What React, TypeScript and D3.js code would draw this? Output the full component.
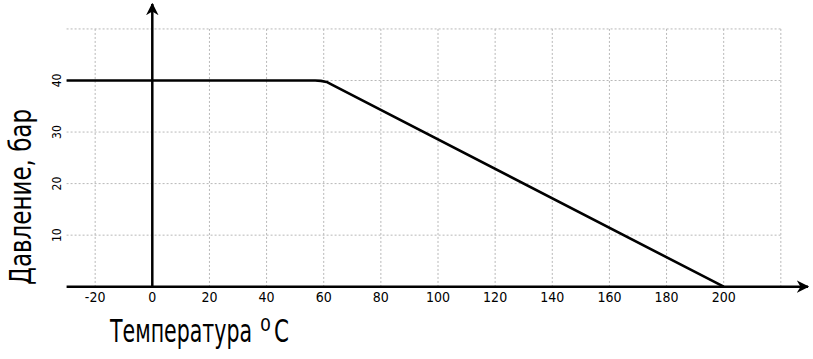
import React from "react";
import * as d3 from "d3";

const temps = [-30, 57, 59, 61, 63, 200];
const pressures = [40, 40, 39.93, 39.72, 39.14, 0];
const xTicks = [-20, 0, 20, 40, 60, 80, 100, 120, 140, 160, 180, 200];
const xGrid = [-20, 0, 20, 40, 60, 80, 100, 120, 140, 160, 180, 200, 220];
const yTicks = [10, 20, 30, 40];
const yGrid = [10, 20, 30, 40, 50];
const xTitle = "Температура";
const xTitleSup = "0";
const xTitleUnit = "C";
const yTitle = "Давление, бар";

const W = 813;
const H = 359;

export default function App() {
  const x = d3.scaleLinear().domain([0, 200]).range([152.3, 723.7]);
  const y = d3.scaleLinear().domain([0, 40]).range([286.7, 80.5]);
  const pts: [number, number][] = temps.map((t, i) => [x(t), y(pressures[i])]);
  const line = d3.line().curve(d3.curveLinear)(pts) || "";
  const xMin = x(-30);
  const xMax = x(220);
  const yTop = y(50);
  const tickFont = "'DejaVu Sans Condensed', 'DejaVu Sans', sans-serif";
  return (
    <svg
      width={W}
      height={H}
      style={{ position: "absolute", left: 0, top: 0, background: "#fff" }}
    >
      <defs>
        <marker id="arr" viewBox="0 0 10 10" refX="9" refY="5" markerWidth="5" markerHeight="5" orient="auto">
          <path d="M0,0 L10,5 L0,10 L3,5 z" fill="#000" />
        </marker>
      </defs>
      {xGrid.map((v) => (
        <line key={"xg" + v} x1={x(v)} x2={x(v)} y1={yTop} y2={y(0)} stroke="#b8b8b8" strokeWidth={1} strokeDasharray="2,2" />
      ))}
      {yGrid.map((v) => (
        <line key={"yg" + v} x1={xMin} x2={xMax} y1={y(v)} y2={y(v)} stroke="#b8b8b8" strokeWidth={1} strokeDasharray="2,2" />
      ))}
      <line x1={xMin} x2={808} y1={y(0)} y2={y(0)} stroke="#000" strokeWidth={2.5} markerEnd="url(#arr)" />
      <line x1={x(0)} x2={x(0)} y1={y(0)} y2={4} stroke="#000" strokeWidth={2.5} markerEnd="url(#arr)" />
      <path d={line} fill="none" stroke="#000" strokeWidth={2.6} strokeLinejoin="round" />
      {xTicks.map((v) => (
        <text key={"xt" + v} x={x(v)} y={302} textAnchor="middle" fontFamily={tickFont} fontSize={14} fill="#000">
          {v}
        </text>
      ))}
      {yTicks.map((v) => (
        <text key={"yt" + v} transform={`translate(61,${y(v)}) rotate(-90)`} textAnchor="middle" fontFamily={tickFont} fontSize={12} fill="#000">
          {v}
        </text>
      ))}
      <text x={110} y={341.5} fontFamily={tickFont} fontSize={32} fill="#000" textLength={142} lengthAdjust="spacingAndGlyphs">
        {xTitle}
      </text>
      <text x={260} y={331} fontFamily={tickFont} fontSize={17} fill="#000" textLength={11} lengthAdjust="spacingAndGlyphs">
        {xTitleSup}
      </text>
      <text x={274} y={341.5} fontFamily={tickFont} fontSize={32} fill="#000" textLength={15} lengthAdjust="spacingAndGlyphs">
        {xTitleUnit}
      </text>
      <text transform={`translate(31,197) rotate(-90)`} textAnchor="middle" fontFamily={tickFont} fontSize={31} fill="#000" textLength={176} lengthAdjust="spacingAndGlyphs">
        {yTitle}
      </text>
    </svg>
  );
}
